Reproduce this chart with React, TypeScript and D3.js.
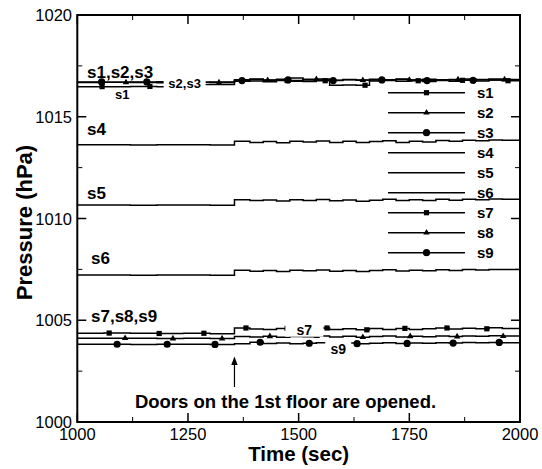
import React from 'react';
import * as d3 from 'd3';

// ---- data ----
const TIMES = [1000, 1060, 1120, 1180, 1240, 1300, 1355, 1390, 1420, 1450, 1480, 1510, 1540, 1570, 1600, 1630, 1660, 1690, 1720, 1750, 1780, 1810, 1840, 1870, 1900, 1930, 1960, 2000];

const S1 = [1016.48, 1016.48, 1016.49, 1016.48, 1016.58, 1016.58, 1016.74, 1016.76, 1016.72, 1016.78, 1016.75, 1016.73, 1016.77, 1016.55, 1016.56, 1016.55, 1016.76, 1016.79, 1016.74, 1016.77, 1016.73, 1016.78, 1016.75, 1016.79, 1016.76, 1016.80, 1016.77, 1016.79];
const S2 = [1016.68, 1016.69, 1016.68, 1016.67, 1016.69, 1016.68, 1016.82, 1016.86, 1016.80, 1016.84, 1016.90, 1016.81, 1016.85, 1016.79, 1016.83, 1016.80, 1016.84, 1016.82, 1016.86, 1016.81, 1016.84, 1016.80, 1016.83, 1016.86, 1016.82, 1016.85, 1016.83, 1016.84];
const S3 = [1016.71, 1016.70, 1016.71, 1016.72, 1016.70, 1016.71, 1016.78, 1016.83, 1016.79, 1016.81, 1016.78, 1016.84, 1016.80, 1016.78, 1016.82, 1016.79, 1016.81, 1016.78, 1016.83, 1016.80, 1016.78, 1016.82, 1016.80, 1016.79, 1016.83, 1016.81, 1016.80, 1016.82];
const S4 = [1013.62, 1013.62, 1013.61, 1013.62, 1013.62, 1013.61, 1013.80, 1013.74, 1013.78, 1013.72, 1013.79, 1013.76, 1013.81, 1013.74, 1013.79, 1013.73, 1013.78, 1013.82, 1013.74, 1013.80, 1013.76, 1013.83, 1013.79, 1013.85, 1013.82, 1013.86, 1013.84, 1013.86];
const S5 = [1010.66, 1010.66, 1010.65, 1010.66, 1010.66, 1010.65, 1010.92, 1010.88, 1010.91, 1010.86, 1010.92, 1010.89, 1010.93, 1010.87, 1010.91, 1010.85, 1010.90, 1010.94, 1010.88, 1010.92, 1010.89, 1010.94, 1010.90, 1010.95, 1010.92, 1010.96, 1010.94, 1010.96];
const S6 = [1007.22, 1007.22, 1007.21, 1007.22, 1007.22, 1007.21, 1007.46, 1007.41, 1007.45, 1007.40, 1007.46, 1007.43, 1007.47, 1007.41, 1007.45, 1007.39, 1007.44, 1007.48, 1007.42, 1007.46, 1007.43, 1007.48, 1007.45, 1007.49, 1007.47, 1007.50, 1007.49, 1007.50];
const S7 = [1004.36, 1004.37, 1004.36, 1004.35, 1004.36, 1004.34, 1004.62, 1004.57, 1004.55, 1004.60, 1004.52, 1004.58, 1004.62, 1004.55, 1004.58, 1004.53, 1004.59, 1004.55, 1004.60, 1004.54, 1004.58, 1004.62, 1004.57, 1004.61, 1004.58, 1004.63, 1004.60, 1004.62];
const S8 = [1004.11, 1004.12, 1004.11, 1004.10, 1004.11, 1004.10, 1004.20, 1004.18, 1004.21, 1004.17, 1004.20, 1004.19, 1004.22, 1004.18, 1004.21, 1004.17, 1004.20, 1004.22, 1004.18, 1004.21, 1004.19, 1004.22, 1004.20, 1004.23, 1004.21, 1004.24, 1004.22, 1004.23];
const S9 = [1003.82, 1003.82, 1003.81, 1003.82, 1003.82, 1003.81, 1003.85, 1003.92, 1003.86, 1003.88, 1003.85, 1003.87, 1003.89, 1003.86, 1003.88, 1003.85, 1003.87, 1003.90, 1003.86, 1003.88, 1003.87, 1003.90, 1003.88, 1003.91, 1003.89, 1003.91, 1003.90, 1003.91];

const MARKS_S1 = [1056, 1164, 1273, 1474, 1560, 1650, 1770, 1870, 1973];
const MARKS_S2 = [1110, 1320, 1430, 1540, 1645, 1750, 1860, 1965];
const MARKS_S3 = [1055, 1157, 1372, 1476, 1578, 1688, 1790, 1894];
const MARKS_S7 = [1072, 1185, 1286, 1381, 1474, 1564, 1654, 1740, 1835, 1925];
const MARKS_S8 = [1108, 1216, 1327, 1435, 1541, 1645, 1752, 1858, 1962];
const MARKS_S9 = [1090, 1203, 1311, 1413, 1524, 1632, 1745, 1849, 1953];

const SERIES_NAMES = ['s1', 's2', 's3', 's4', 's5', 's6', 's7', 's8', 's9'];
const X_TICKS = [1000, 1250, 1500, 1750, 2000];
const X_MINOR = [1125, 1375, 1625, 1875];
const Y_TICKS = [1000, 1005, 1010, 1015, 1020];
const Y_MINOR = [1002.5, 1007.5, 1012.5, 1017.5];

const DOOR_TIME = 1355;

type Marker = 'square' | 'triangle' | 'circle' | 'none';
const SERIES: { name: string; values: number[]; marks: number[]; marker: Marker }[] = [
  { name: SERIES_NAMES[0], values: S1, marks: MARKS_S1, marker: 'square' },
  { name: SERIES_NAMES[1], values: S2, marks: MARKS_S2, marker: 'triangle' },
  { name: SERIES_NAMES[2], values: S3, marks: MARKS_S3, marker: 'circle' },
  { name: SERIES_NAMES[3], values: S4, marks: [], marker: 'none' },
  { name: SERIES_NAMES[4], values: S5, marks: [], marker: 'none' },
  { name: SERIES_NAMES[5], values: S6, marks: [], marker: 'none' },
  { name: SERIES_NAMES[6], values: S7, marks: MARKS_S7, marker: 'square' },
  { name: SERIES_NAMES[7], values: S8, marks: MARKS_S8, marker: 'triangle' },
  { name: SERIES_NAMES[8], values: S9, marks: MARKS_S9, marker: 'circle' },
];

const W = 542;
const H = 469;
const L = 77.3, R = 520, T = 15, B = 422;
const FONT = '"Liberation Sans", Arial, Helvetica, sans-serif';

const x = d3.scaleLinear().domain([1000, 2000]).range([L, R]);
const y = d3.scaleLinear().domain([1000, 1020]).range([B, T]);

function valueAt(values: number[], t: number) {
  const i = Math.max(0, d3.bisectRight(TIMES, t) - 1);
  return values[Math.min(i, values.length - 1)];
}

function MarkerShape({ type, cx, cy }: { type: Marker; cx: number; cy: number }) {
  if (type === 'square') return <rect x={cx - 2.6} y={cy - 2.6} width={5.2} height={5.2} fill="#000" />;
  if (type === 'circle') return <circle cx={cx} cy={cy} r={3.6} fill="#000" />;
  if (type === 'triangle') {
    const p = d3.symbol().type(d3.symbolTriangle).size(18)();
    return <path d={p || ''} transform={`translate(${cx},${cy})`} fill="#000" />;
  }
  return null;
}

export default function App() {
  const line = d3
    .line<[number, number]>()
    .x((d) => x(d[0]))
    .y((d) => y(d[1]))
    .curve(d3.curveStepAfter);

  const boxes = [
    { t: 1195, p: 1016.95, w: 42, h: 14, text: 's2,s3', size: 13, dy: 10.5 },
    { t: 1080, p: 1016.35, w: 19, h: 12, text: 's1', size: 13, dy: 9.5 },
    { t: 1470, p: 1004.78, w: 38, h: 12, text: 's7', size: 14, dy: 10 },
    { t: 1560, p: 1003.97, w: 26, h: 16, text: 's9', size: 14, dy: 12.5 },
  ];

  const legendTop = 92.7;
  const legendStep = 20;
  const lx0 = 388, lx1 = 465;

  return (
    <svg width={W} height={H} style={{ position: 'absolute', left: 0, top: 0, background: '#fff' }} fontFamily={FONT}>
      <rect x={0} y={0} width={W} height={H} fill="#fff" />
      <defs>
        <clipPath id="plot">
          <rect x={L} y={T} width={R - L} height={B - T} />
        </clipPath>
      </defs>

      <g clipPath="url(#plot)">
        {SERIES.map((s) => (
          <path
            key={s.name}
            d={line(TIMES.map((t, i) => [t, s.values[i]] as [number, number])) || ''}
            fill="none"
            stroke="#000"
            strokeWidth={1.5}
          />
        ))}
        {SERIES.map((s) =>
          s.marks.map((t, i) => (
            <MarkerShape key={s.name + i} type={s.marker} cx={x(t)} cy={y(valueAt(s.values, t))} />
          ))
        )}
        {boxes.map((b, i) => (
          <g key={i}>
            <rect x={x(b.t)} y={y(b.p)} width={b.w} height={b.h} fill="#fff" />
            <text x={x(b.t) + b.w / 2} y={y(b.p) + b.dy} textAnchor="middle" fontSize={b.size} fontWeight="bold">
              {b.text}
            </text>
          </g>
        ))}
      </g>

      {/* series group labels */}
      <text x={x(1022)} y={y(1016.9)} fontSize={17} fontWeight="bold">s1,s2,s3</text>
      <text x={x(1022)} y={y(1014.1)} fontSize={17} fontWeight="bold">s4</text>
      <text x={x(1022)} y={y(1010.97)} fontSize={17} fontWeight="bold">s5</text>
      <text x={x(1031)} y={y(1007.78)} fontSize={17} fontWeight="bold">s6</text>
      <text x={x(1031)} y={y(1004.9)} fontSize={17} fontWeight="bold">s7,s8,s9</text>

      {/* legend */}
      {SERIES.map((s, i) => {
        const ly = legendTop + i * legendStep;
        return (
          <g key={'lg' + s.name}>
            <line x1={lx0} x2={lx1} y1={ly} y2={ly} stroke="#000" strokeWidth={1.5} />
            <MarkerShape type={s.marker} cx={(lx0 + lx1) / 2} cy={ly} />
            <text x={477} y={ly + 5.6} fontSize={15} fontWeight="bold">{s.name}</text>
          </g>
        );
      })}

      {/* annotation arrow */}
      <line x1={x(DOOR_TIME)} x2={x(DOOR_TIME)} y1={387} y2={362} stroke="#000" strokeWidth={1.2} />
      <path d={`M${x(DOOR_TIME)},356.5 L${x(DOOR_TIME) - 3.2},365 L${x(DOOR_TIME) + 3.2},365 Z`} fill="#000" />
      <text x={285.5} y={408} textAnchor="middle" fontSize={18.5} fontWeight="bold">
        Doors on the 1st floor are opened.
      </text>

      {/* ticks */}
      {X_TICKS.map((t) => (
        <g key={'xt' + t}>
          <line x1={x(t)} x2={x(t)} y1={B} y2={B - 9} stroke="#000" strokeWidth={1.5} />
          <line x1={x(t)} x2={x(t)} y1={T} y2={T + 9} stroke="#000" strokeWidth={1.5} />
          <text x={x(t)} y={440} textAnchor="middle" fontSize={16.5}>{t}</text>
        </g>
      ))}
      {X_MINOR.map((t) => (
        <g key={'xm' + t}>
          <line x1={x(t)} x2={x(t)} y1={B} y2={B - 5} stroke="#000" strokeWidth={1} />
          <line x1={x(t)} x2={x(t)} y1={T} y2={T + 5} stroke="#000" strokeWidth={1} />
        </g>
      ))}
      {Y_TICKS.map((v) => (
        <g key={'yt' + v}>
          <line x1={L} x2={L + 9} y1={y(v)} y2={y(v)} stroke="#000" strokeWidth={1.5} />
          <line x1={R} x2={R - 9} y1={y(v)} y2={y(v)} stroke="#000" strokeWidth={1.5} />
          <text x={72} y={y(v) + 6} textAnchor="end" fontSize={16.5}>{v}</text>
        </g>
      ))}
      {Y_MINOR.map((v) => (
        <g key={'ym' + v}>
          <line x1={L} x2={L + 5} y1={y(v)} y2={y(v)} stroke="#000" strokeWidth={1} />
          <line x1={R} x2={R - 5} y1={y(v)} y2={y(v)} stroke="#000" strokeWidth={1} />
        </g>
      ))}

      {/* frame */}
      <rect x={L} y={T} width={R - L} height={B - T} fill="none" stroke="#000" strokeWidth={2} />

      {/* axis titles */}
      <text x={(L + R) / 2} y={461} textAnchor="middle" fontSize={20.5} fontWeight="bold">Time (sec)</text>
      <text transform={`translate(32,${(T + B) / 2 + 4}) rotate(-90)`} textAnchor="middle" fontSize={22} fontWeight="bold">
        Pressure (hPa)
      </text>
    </svg>
  );
}
